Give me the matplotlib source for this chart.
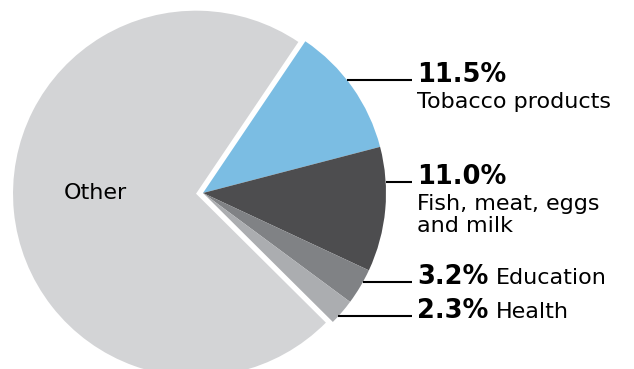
import numpy as np
import matplotlib
matplotlib.use("Agg")
import matplotlib.pyplot as plt

# shares of spending (%)
categories = ["Tobacco products", "Fish, meat, eggs\nand milk", "Education", "Health", "Other"]
shares = [11.5, 11.0, 3.2, 2.3, 72.0]
pct_labels = ["11.5%", "11.0%", "3.2%", "2.3%"]
colors = ["#7bbde3", "#4d4d4f", "#808285", "#abadb0", "#d3d4d6"]

W, H = 634, 369
fig = plt.figure(figsize=(W / 100, H / 100), dpi=100)
ax = fig.add_axes([0, 0, 1, 1])

cx, cy, r = 203, H - 193, 183
# explode is in data units here (pixels)
ax.pie(shares, colors=colors, startangle=56, counterclock=False,
       explode=[0, 0, 0, 0, 7], center=(cx, cy), radius=r,
       wedgeprops=dict(linewidth=0))
ax.set_xlim(0, W)
ax.set_ylim(0, H)
ax.set_aspect("equal")
ax.axis("off")

ax.text(95, H - 193, "Other", fontsize=16, ha="center", va="center")

# leader line heights (pixels from top) and label block
line_y = [80, 182, 282, 316]
x_end = 412
inline = [False, False, True, True]
fig.canvas.draw()
rend = fig.canvas.get_renderer()
for i in range(4):
    y = H - line_y[i]
    x0 = cx + np.sqrt(r ** 2 - (y - cy) ** 2)
    ax.plot([x0, x_end], [y, y], color="black", lw=1.5, solid_capstyle="butt")
    t = ax.text(x_end + 5, y - 2, pct_labels[i], fontsize=18.5, fontweight="bold",
                ha="left", va="baseline")
    if inline[i]:
        bb = t.get_window_extent(renderer=rend)
        ax.text(bb.x1 + 7, y - 2, categories[i], fontsize=16, ha="left", va="baseline")
    else:
        for k, part in enumerate(categories[i].split("\n")):
            ax.text(x_end + 5, y - 28 - 22 * k, part, fontsize=16, ha="left", va="baseline")

fig.savefig("out.png", dpi=100)
